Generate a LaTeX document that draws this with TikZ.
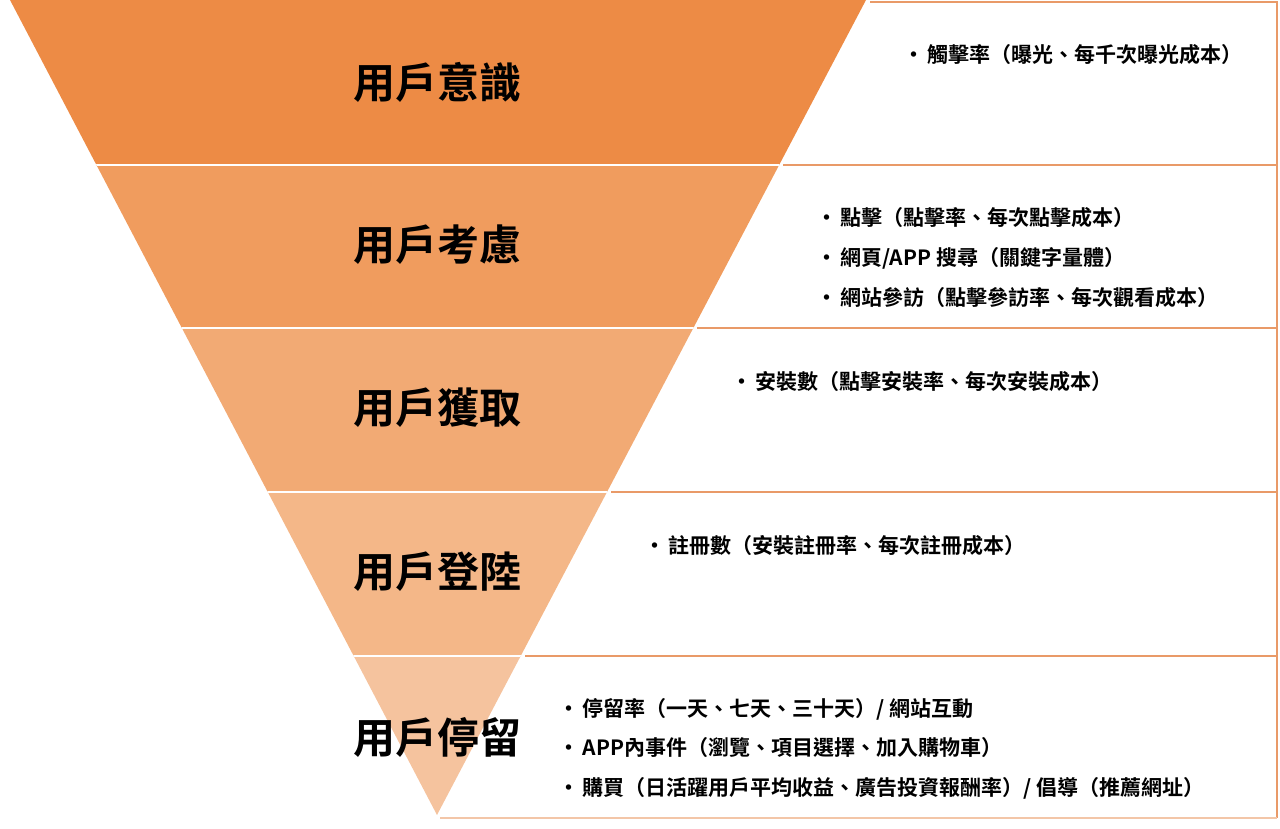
\documentclass[tikz,border=0pt]{standalone}
\usepackage{fontspec}
\newfontfamily\cjk{Noto Sans CJK TC}[BoldFont={* Bold}]
\definecolor{c1}{HTML}{ED8B45}
\definecolor{c2}{HTML}{F09C5E}
\definecolor{c3}{HTML}{F2AA74}
\definecolor{c4}{HTML}{F4B788}
\definecolor{c5}{HTML}{F5C39E}
\definecolor{ln}{HTML}{E99A68}
\definecolor{lnb}{HTML}{F3C6A8}
\begin{document}
\begin{tikzpicture}[x=1pt,y=-1pt,
  lab/.style={font=\cjk\bfseries\fontsize{42}{48}\selectfont,anchor=center},
  item/.style={font=\cjk\bfseries\fontsize{21}{24}\selectfont,anchor=west,inner sep=0},
  bord/.style={draw=ln,line width=1.6pt}]
\useasboundingbox (0,0) rectangle (1280,829);
\begin{scope}
\clip (10,0) -- (866,0) -- (437,815) -- cycle;
\fill[c1] (0,0) rectangle (1280,165);
\fill[c2] (0,165) rectangle (1280,328);
\fill[c3] (0,328) rectangle (1280,492);
\fill[c4] (0,492) rectangle (1280,656);
\fill[c5] (0,656) rectangle (1280,829);
\foreach \y in {165,328,492,656} \draw[white,line width=2.5pt] (0,\y) -- (1280,\y);
\end{scope}
\coordinate (t0) at (870,2);
\coordinate (r0) at (1277,2);
\draw[bord] (t0) -- (r0) -- (1277,818);
\draw[bord] (783,165) -- (1277,165);
\draw[bord] (697,328) -- (1277,328);
\draw[bord] (611,492) -- (1277,492);
\draw[bord] (525,656) -- (1277,656);
\draw[draw=lnb,line width=1.6pt] (440,818) -- (1277,818);
\node[lab] (l1) at (437,82) {用戶意識};
\node[lab] (l2) at (437,245) {用戶考慮};
\node[lab] (l3) at (437,408) {用戶獲取};
\node[lab] (l4) at (437,572) {用戶登陸};
\node[lab] (l5) at (437,737) {用戶停留};
\node[item] (a1) at (903,55) {•\,觸擊率（曝光、每千次曝光成本）};
\node[item] (b1) at (816,218) {•\,點擊（點擊率、每次點擊成本）};
\node[item] (b2) at (816,258) {•\,網頁/APP 搜尋（關鍵字量體）};
\node[item] (b3) at (816,298) {•\,網站參訪（點擊參訪率、每次觀看成本）};
\node[item] (c1n) at (731,382) {•\,安裝數（點擊安裝率、每次安裝成本）};
\node[item] (d1) at (644,546) {•\,註冊數（安裝註冊率、每次註冊成本）};
\node[item] (e1) at (558,709) {•\,停留率（一天、七天、三十天）/ 網站互動};
\node[item] (e2) at (558,748) {•\,APP內事件（瀏覽、項目選擇、加入購物車）};
\node[item] (e3) at (558,788) {•\,購買（日活躍用戶平均收益、廣告投資報酬率）/ 倡導（推薦網址）};
\end{tikzpicture}
\end{document}
